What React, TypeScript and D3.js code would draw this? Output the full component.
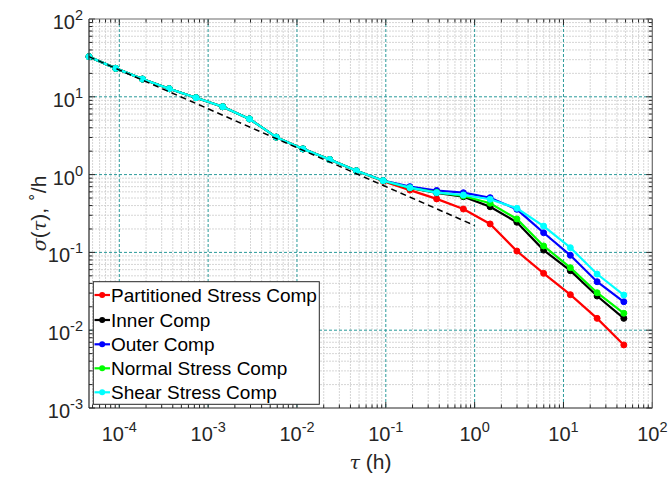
import React from "react";
import * as d3 from "d3";

const tau = [4.56e-5, 9.12e-5, 1.824e-4, 3.648e-4, 7.296e-4, 1.459e-3, 2.918e-3, 5.837e-3, 1.167e-2, 2.335e-2, 4.669e-2, 9.339e-2, 0.1868, 0.3736, 0.7471, 1.494, 2.988, 5.977, 11.95, 23.91, 47.82];

const partitioned = [32.8, 23.2, 16.9, 12.7, 9.74, 7.46, 5.2, 3.03, 2.14, 1.56, 1.12, 0.82, 0.632, 0.487, 0.361, 0.232, 0.104, 0.0538, 0.0286, 0.0142, 0.00646];
const inner = [32.8, 23.2, 16.9, 12.7, 9.74, 7.46, 5.2, 3.03, 2.14, 1.56, 1.12, 0.835, 0.673, 0.582, 0.52, 0.386, 0.244, 0.107, 0.0582, 0.0275, 0.0142];
const outer = [32.8, 23.2, 16.9, 12.7, 9.74, 7.46, 5.2, 3.03, 2.14, 1.56, 1.12, 0.84, 0.70, 0.625, 0.585, 0.505, 0.358, 0.179, 0.0918, 0.042, 0.0232];
const normal = [32.8, 23.2, 16.9, 12.7, 9.74, 7.46, 5.2, 3.03, 2.14, 1.56, 1.12, 0.835, 0.675, 0.59, 0.531, 0.428, 0.269, 0.121, 0.0636, 0.0303, 0.0165];
const shear = [32.8, 23.2, 16.9, 12.7, 9.74, 7.46, 5.2, 3.03, 2.14, 1.56, 1.12, 0.835, 0.679, 0.585, 0.547, 0.482, 0.369, 0.218, 0.115, 0.0527, 0.0283];

const seriesNames = ["Partitioned Stress Comp", "Inner Comp", "Outer Comp", "Normal Stress Comp", "Shear Stress Comp"];
const seriesColors = ["#ff0000", "#000000", "#0000ff", "#00ff00", "#00ffff"];
const seriesValues = [partitioned, inner, outer, normal, shear];

const refTau = [4.56e-5, 1];
const refSigma = [32.8, 0.222];

const xTickExps = [-4, -3, -2, -1, 0, 1, 2];
const yTickExps = [-3, -2, -1, 0, 1, 2];

const W = 670, H = 478;
const L = 89, R = 652.3, T = 19, B = 408;
const FONT = "'Liberation Sans', Arial, Helvetica, sans-serif";

export default function App() {
  const x = d3.scaleLog().domain([4.56e-5, 100]).range([L, R]);
  const y = d3.scaleLog().domain([1e-3, 100]).range([B, T]);

  const xMinor: number[] = [];
  for (let k = -5; k <= 1; k++) for (let m = 2; m <= 9; m++) {
    const v = m * Math.pow(10, k);
    if (v > 4.56e-5 && v < 100) xMinor.push(v);
  }
  const yMinor: number[] = [];
  for (let k = -3; k <= 1; k++) for (let m = 2; m <= 9; m++) yMinor.push(m * Math.pow(10, k));

  const line = d3.line<[number, number]>().x(d => x(d[0])).y(d => y(d[1]));

  const axisCol = "#262626";
  const legX = 93.3, legY = 281.7, legW = 226, legH = 122.6;
  const legRows = [295, 320, 344.3, 368.3, 392.3];
  const refPath = line(refTau.map((t, i) => [t, refSigma[i]]) as any) || "";

  return (
    <svg width={W} height={H} style={{ position: "absolute", left: 0, top: 0, background: "#fff" }} fontFamily={FONT}>
      <rect x={0} y={0} width={W} height={H} fill="#fff" />
      <rect x={L} y={T} width={R - L} height={B - T} fill="#fff" />
      {/* minor grid */}
      <g stroke="#c4c4c4" strokeWidth={0.8} strokeDasharray="2,1" opacity={0.85}>
        {xMinor.map((v, i) => <line key={"xm" + i} x1={x(v)} x2={x(v)} y1={T} y2={B} />)}
        {yMinor.map((v, i) => <line key={"ym" + i} x1={L} x2={R} y1={y(v)} y2={y(v)} />)}
      </g>
      {/* major grid */}
      <g stroke="#2a9a9a" strokeWidth={1} strokeDasharray="3,2">
        {xTickExps.slice(0, -1).map(e => <line key={"xg" + e} x1={x(Math.pow(10, e))} x2={x(Math.pow(10, e))} y1={T} y2={B} />)}
        {yTickExps.slice(1, -1).map(e => <line key={"yg" + e} x1={L} x2={R} y1={y(Math.pow(10, e))} y2={y(Math.pow(10, e))} />)}
      </g>
      {/* ticks */}
      <g stroke={axisCol} strokeWidth={1}>
        {xTickExps.map(e => {
          const px = x(Math.pow(10, e));
          return <g key={"xt" + e}><line x1={px} x2={px} y1={B} y2={B - 6} /><line x1={px} x2={px} y1={T} y2={T + 6} /></g>;
        })}
        {xMinor.map((v, i) => <g key={"xmt" + i}><line x1={x(v)} x2={x(v)} y1={B} y2={B - 3.5} /><line x1={x(v)} x2={x(v)} y1={T} y2={T + 3.5} /></g>)}
        {yTickExps.map(e => {
          const py = y(Math.pow(10, e));
          return <g key={"yt" + e}><line x1={L} x2={L + 6} y1={py} y2={py} /><line x1={R} x2={R - 6} y1={py} y2={py} /></g>;
        })}
        {yMinor.map((v, i) => <g key={"ymt" + i}><line x1={L} x2={L + 3.5} y1={y(v)} y2={y(v)} /><line x1={R} x2={R - 3.5} y1={y(v)} y2={y(v)} /></g>)}
      </g>
      {/* series */}
      {seriesValues.map((vals, si) => (
        <g key={"s" + si}>
          <path d={line(tau.map((t, i) => [t, vals[i]]) as any) || ""} fill="none" stroke={seriesColors[si]} strokeWidth={2.2} />
          {tau.map((t, i) => <circle key={i} cx={x(t)} cy={y(vals[i])} r={3} fill={seriesColors[si]} stroke={seriesColors[si]} />)}
        </g>
      ))}
      {/* reference dashed line on top */}
      <path d={refPath} fill="none" stroke="#000" strokeWidth={1.5} strokeDasharray="6,4" />
      {/* box */}
      <line x1={L} x2={R} y1={B} y2={B} stroke={axisCol} strokeWidth={1.2} />
      <line x1={L} x2={L} y1={T} y2={B} stroke={axisCol} strokeWidth={1.2} />
      <line x1={L} x2={R} y1={T} y2={T} stroke="#6a6a6a" strokeWidth={1.2} />
      <line x1={R} x2={R} y1={T} y2={B} stroke="#6a6a6a" strokeWidth={1.2} />
      {/* x tick labels */}
      {xTickExps.map(e => (
        <text key={"xl" + e} x={x(Math.pow(10, e))} y={441} textAnchor="middle" fontSize={20} fill={axisCol}>
          10<tspan dy={-9} fontSize={14.5}>{String(e)}</tspan>
        </text>
      ))}
      {/* y tick labels */}
      {yTickExps.map(e => (
        <text key={"yl" + e} x={83} y={y(Math.pow(10, e)) + 10} textAnchor="end" fontSize={20} fill={axisCol}>
          10<tspan dy={-9} fontSize={14.5}>{String(e)}</tspan>
        </text>
      ))}
      {/* axis titles */}
      <text x={370.5} y={469} textAnchor="middle" fontSize={21} fill={axisCol}>
        <tspan fontFamily="'DejaVu Serif', serif" fontStyle="italic" fontSize={19}>τ</tspan> (h)
      </text>
      <text transform={`translate(46,${(T + B) / 2}) rotate(-90)`} textAnchor="middle" fontSize={21} fill={axisCol}>
        <tspan fontFamily="'DejaVu Serif', serif" fontStyle="italic" fontSize={19}>σ</tspan>(<tspan fontFamily="'DejaVu Serif', serif" fontStyle="italic" fontSize={19}>τ</tspan>),  <tspan dy={-10} fontSize={15}>∘</tspan><tspan dy={10}>/h</tspan>
      </text>
      {/* legend */}
      <rect x={legX} y={legY} width={legW} height={legH} fill="#fff" stroke={axisCol} strokeWidth={1} />
      {seriesNames.map((n, i) => (
        <g key={"lg" + i}>
          <line x1={94.5} x2={110} y1={legRows[i]} y2={legRows[i]} stroke={seriesColors[i]} strokeWidth={2.2} />
          <circle cx={102.2} cy={legRows[i]} r={3} fill={seriesColors[i]} />
          <text x={111} y={legRows[i]} dy="0.36em" fontSize={19} fill="#000">{n}</text>
        </g>
      ))}
    </svg>
  );
}
